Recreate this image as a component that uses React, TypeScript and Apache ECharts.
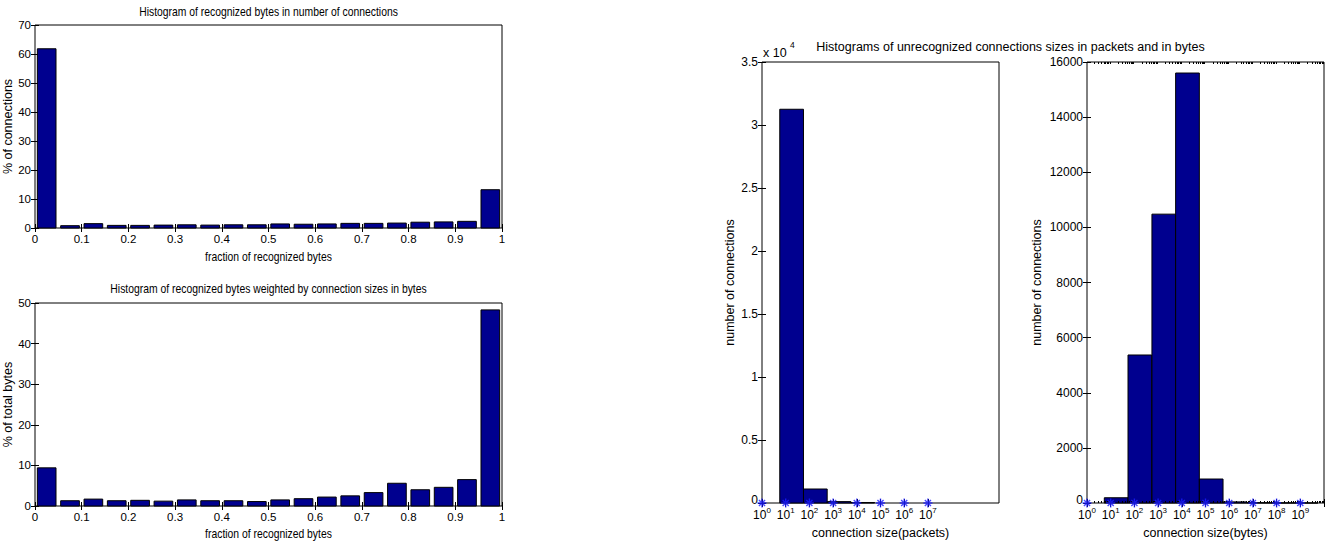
import React, { useEffect, useRef } from "react";
import * as echarts from "echarts";

// ---------- data ----------
const fractionBinCenters = [
  0.025, 0.075, 0.125, 0.175, 0.225, 0.275, 0.325, 0.375, 0.425, 0.475,
  0.525, 0.575, 0.625, 0.675, 0.725, 0.775, 0.825, 0.875, 0.925, 0.975,
];
const pctConnections = [
  61.8, 0.8, 1.5, 0.9, 0.9, 1.0, 1.1, 1.0, 1.1, 1.1,
  1.4, 1.3, 1.4, 1.6, 1.6, 1.7, 2.0, 2.1, 2.3, 13.2,
];
const pctTotalBytes = [
  9.4, 1.3, 1.7, 1.3, 1.4, 1.2, 1.5, 1.3, 1.3, 1.1,
  1.5, 1.8, 2.2, 2.5, 3.3, 5.6, 4.0, 4.6, 6.5, 48.3,
];
// log10 bin centres (connection size exponent)
const packetBinCenters = [1.25, 2.25, 3.25, 4.25];
const packetCounts = [31250, 1110, 110, 40];
const byteBinCenters = [1.23, 2.23, 3.24, 4.24, 5.24, 6.24, 7.24, 8.24, 9.24];
const byteCounts = [190, 5370, 10480, 15600, 870, 40, 10, 3, 1];
const packetDecades = [0, 1, 2, 3, 4, 5, 6, 7];
const byteDecades = [0, 1, 2, 3, 4, 5, 6, 7, 8, 9];
const byteMajorTicks = [0, 1, 2, 3, 4, 5, 6, 7, 8, 9, 10];
const minorMultipliers = [2, 3, 4, 5, 6, 7, 8, 9];

const FONT = "'Liberation Sans', Arial, Helvetica, sans-serif";
const BAR = "#00008f";
const STAR = "#1a1aff";

const starPath =
  "path://M5,0 L5,10 M0,5 L10,5 M1.6,1.6 L8.4,8.4 M1.6,8.4 L8.4,1.6";

function histRender(halfWidth: number) {
  return (params: any, api: any) => {
    const x = api.value(0);
    const y = api.value(1);
    const a = api.coord([x - halfWidth, y]);
    const b = api.coord([x + halfWidth, 0]);
    return {
      type: "rect",
      shape: { x: a[0], y: a[1], width: b[0] - a[0], height: b[1] - a[1] },
      style: { fill: BAR, stroke: "#000", lineWidth: 1 },
    };
  };
}

function minorTickRender(params: any, api: any) {
  const cs = params.coordSys;
  const p = api.coord([api.value(0), 0]);
  const x = Math.round(p[0]) + 0.5;
  return {
    type: "group",
    children: [
      { type: "line", shape: { x1: x, y1: cs.y + cs.height, x2: x, y2: cs.y + cs.height - 2 }, style: { stroke: "#000", lineWidth: 1 } },
      { type: "line", shape: { x1: x, y1: cs.y, x2: x, y2: cs.y + 2 }, style: { stroke: "#000", lineWidth: 1 } },
    ],
  };
}

const tickStyle = { inside: true, length: 4, lineStyle: { color: "#000", width: 1 } };

function fracAxis(gridIndex: number, top: boolean) {
  return {
    type: "value",
    gridIndex,
    position: top ? "top" : "bottom",
    min: 0,
    max: 1,
    interval: 0.1,
    axisLine: { show: false },
    axisTick: tickStyle,
    splitLine: { show: false },
    axisLabel: {
      show: !top,
      margin: 5,
      color: "#000",
      fontSize: 11.5,
      fontFamily: FONT,
      formatter: (v: number) => (v === 0 ? "0" : v === 1 ? "1" : v.toFixed(1)),
    },
  };
}

const zeroRich = {
  z: { fontSize: 12, fontFamily: FONT, color: "#000", padding: [0, 0, 6, 0] },
};

function valAxis(gridIndex: number, right: boolean, max: number, interval: number, name: string, nameGap: number, fmt: (v: number) => string, fontSize: number) {
  return {
    type: "value",
    gridIndex,
    position: right ? "right" : "left",
    min: 0,
    max,
    interval,
    axisLine: { show: false },
    axisTick: tickStyle,
    splitLine: { show: false },
    axisLabel: {
      show: !right,
      margin: 4,
      color: "#000",
      fontSize,
      fontFamily: FONT,
      formatter: fmt,
      rich: zeroRich,
    },
    name: right ? "" : name,
    nameLocation: "middle",
    nameRotate: 90,
    nameGap,
    nameTextStyle: { color: "#000", fontSize: 12.5, fontFamily: FONT },
  };
}

const decadeLabel = (v: number) => `{b|10}{s|${Math.round(v)}}`;
const decadeRich = {
  b: { fontSize: 12, fontFamily: FONT, color: "#000", verticalAlign: "bottom", lineHeight: 15 },
  s: { fontSize: 8, fontFamily: FONT, color: "#000", verticalAlign: "top", lineHeight: 15 },
};

function logAxis(gridIndex: number, top: boolean, tickValues: number[], labelValues: number[], name: string) {
  return {
    type: "value",
    gridIndex,
    position: top ? "top" : "bottom",
    min: 0,
    max: 10,
    interval: 1,
    axisLine: { show: false },
    axisTick: { ...tickStyle, customValues: tickValues },
    splitLine: { show: false },
    axisLabel: {
      show: !top,
      customValues: labelValues,
      margin: 3,
      fontSize: 12,
      formatter: decadeLabel,
      rich: decadeRich,
    },
    name: top ? "" : name,
    nameLocation: "middle",
    nameGap: 23,
    nameTextStyle: { color: "#000", fontSize: 12.5, fontFamily: FONT },
  };
}

function squishedText(text: string, x: number, y: number) {
  return {
    type: "text",
    x,
    y,
    scaleX: 0.865,
    style: {
      text, x: 0, y: 0, align: "center", verticalAlign: "middle",
      fontSize: 12, fontFamily: FONT, fill: "#000",
    },
  };
}

export default function App() {
  const ref = useRef<HTMLDivElement>(null);

  useEffect(() => {
    if (!ref.current) return;
    const chart = echarts.init(ref.current, undefined, { renderer: "svg" });

    const minorData: number[][] = [];
    byteMajorTicks.slice(0, -1).forEach((n) =>
      minorMultipliers.forEach((k) => minorData.push([n + Math.log10(k), 0]))
    );

    const gridBase = { show: true, borderColor: "#000", borderWidth: 1, backgroundColor: "#fff", containLabel: false };
    const plain = (v: number) => String(v);
    const raisedZero = (v: number) => (v === 0 ? "{z|0}" : String(v));
    const raisedZero1e4 = (v: number) => (v === 0 ? "{z|0}" : String(v / 10000));

    chart.setOption({
      animation: false,
      backgroundColor: "#fff",
      grid: [
        { ...gridBase, left: 35, top: 25, width: 467, height: 203 },
        { ...gridBase, left: 35, top: 303, width: 467, height: 203 },
        { ...gridBase, left: 762, top: 62, width: 237, height: 441 },
        { ...gridBase, left: 1087, top: 62, width: 237, height: 441 },
      ],
      xAxis: [
        fracAxis(0, false),
        fracAxis(0, true),
        fracAxis(1, false),
        fracAxis(1, true),
        logAxis(2, false, packetDecades, packetDecades, "connection size(packets)"),
        logAxis(2, true, packetDecades, packetDecades, ""),
        logAxis(3, false, byteMajorTicks, byteDecades, "connection size(bytes)"),
        logAxis(3, true, byteMajorTicks, byteDecades, ""),
      ],
      yAxis: [
        valAxis(0, false, 70, 10, "% of connections", 18, plain, 11.5),
        valAxis(0, true, 70, 10, "", 0, plain, 11.5),
        valAxis(1, false, 50, 10, "% of total bytes", 18, plain, 11.5),
        valAxis(1, true, 50, 10, "", 0, plain, 11.5),
        valAxis(2, false, 35000, 5000, "number of connections", 26, raisedZero1e4, 12),
        valAxis(2, true, 35000, 5000, "", 0, plain, 12),
        valAxis(3, false, 16000, 2000, "number of connections", 44, raisedZero, 12),
        valAxis(3, true, 16000, 2000, "", 0, plain, 12),
      ],
      series: [
        {
          type: "custom",
          name: "% of connections",
          xAxisIndex: 0,
          yAxisIndex: 0,
          renderItem: histRender(0.02),
          data: fractionBinCenters.map((c, i) => [c, pctConnections[i]]),
          clip: false,
        },
        {
          type: "custom",
          name: "% of total bytes",
          xAxisIndex: 2,
          yAxisIndex: 2,
          renderItem: histRender(0.02),
          data: fractionBinCenters.map((c, i) => [c, pctTotalBytes[i]]),
          clip: false,
        },
        {
          type: "custom",
          name: "packets",
          xAxisIndex: 4,
          yAxisIndex: 4,
          renderItem: histRender(0.5),
          data: packetBinCenters.map((c, i) => [c, packetCounts[i]]),
          clip: false,
        },
        {
          type: "scatter",
          xAxisIndex: 4,
          yAxisIndex: 4,
          symbol: starPath,
          symbolSize: 9,
          itemStyle: { color: "rgba(0,0,0,0)", borderColor: STAR, borderWidth: 1.4 },
          data: packetDecades.map((d) => [d, 0]),
          clip: false,
          z: 5,
        },
        {
          type: "custom",
          name: "bytes",
          xAxisIndex: 6,
          yAxisIndex: 6,
          renderItem: histRender(0.5),
          data: byteBinCenters.map((c, i) => [c, byteCounts[i]]),
          clip: false,
        },
        {
          type: "custom",
          xAxisIndex: 6,
          yAxisIndex: 6,
          renderItem: minorTickRender,
          data: minorData,
          clip: false,
          z: 4,
        },
        {
          type: "scatter",
          xAxisIndex: 6,
          yAxisIndex: 6,
          symbol: starPath,
          symbolSize: 9,
          itemStyle: { color: "rgba(0,0,0,0)", borderColor: STAR, borderWidth: 1.4 },
          data: byteDecades.map((d) => [d, 0]),
          clip: false,
          z: 5,
        },
      ],
      graphic: [
        squishedText("Histogram of recognized bytes in number of connections", 268.5, 12),
        squishedText("fraction of recognized bytes", 268.5, 257),
        squishedText("Histogram of recognized bytes weighted by connection sizes in bytes", 268.5, 288.5),
        squishedText("fraction of recognized bytes", 268.5, 533.5),
        {
          type: "text",
          style: {
            text: "Histograms of unrecognized connections sizes in packets and in bytes",
            x: 1010.5, y: 47, align: "center", verticalAlign: "middle",
            fontSize: 12.5, fontFamily: FONT, fill: "#000",
          },
        },
        {
          type: "text",
          style: {
            text: "x 10", x: 763, y: 52.5, align: "left", verticalAlign: "middle",
            fontSize: 12.5, fontFamily: FONT, fill: "#000",
          },
        },
        {
          type: "text",
          style: {
            text: "4", x: 790, y: 45, align: "left", verticalAlign: "middle",
            fontSize: 8.5, fontFamily: FONT, fill: "#000",
          },
        },
      ],
    });

    return () => chart.dispose();
  }, []);

  return (
    <div
      ref={ref}
      style={{ position: "absolute", left: 0, top: 0, width: 1336, height: 547, background: "#fff" }}
    />
  );
}
